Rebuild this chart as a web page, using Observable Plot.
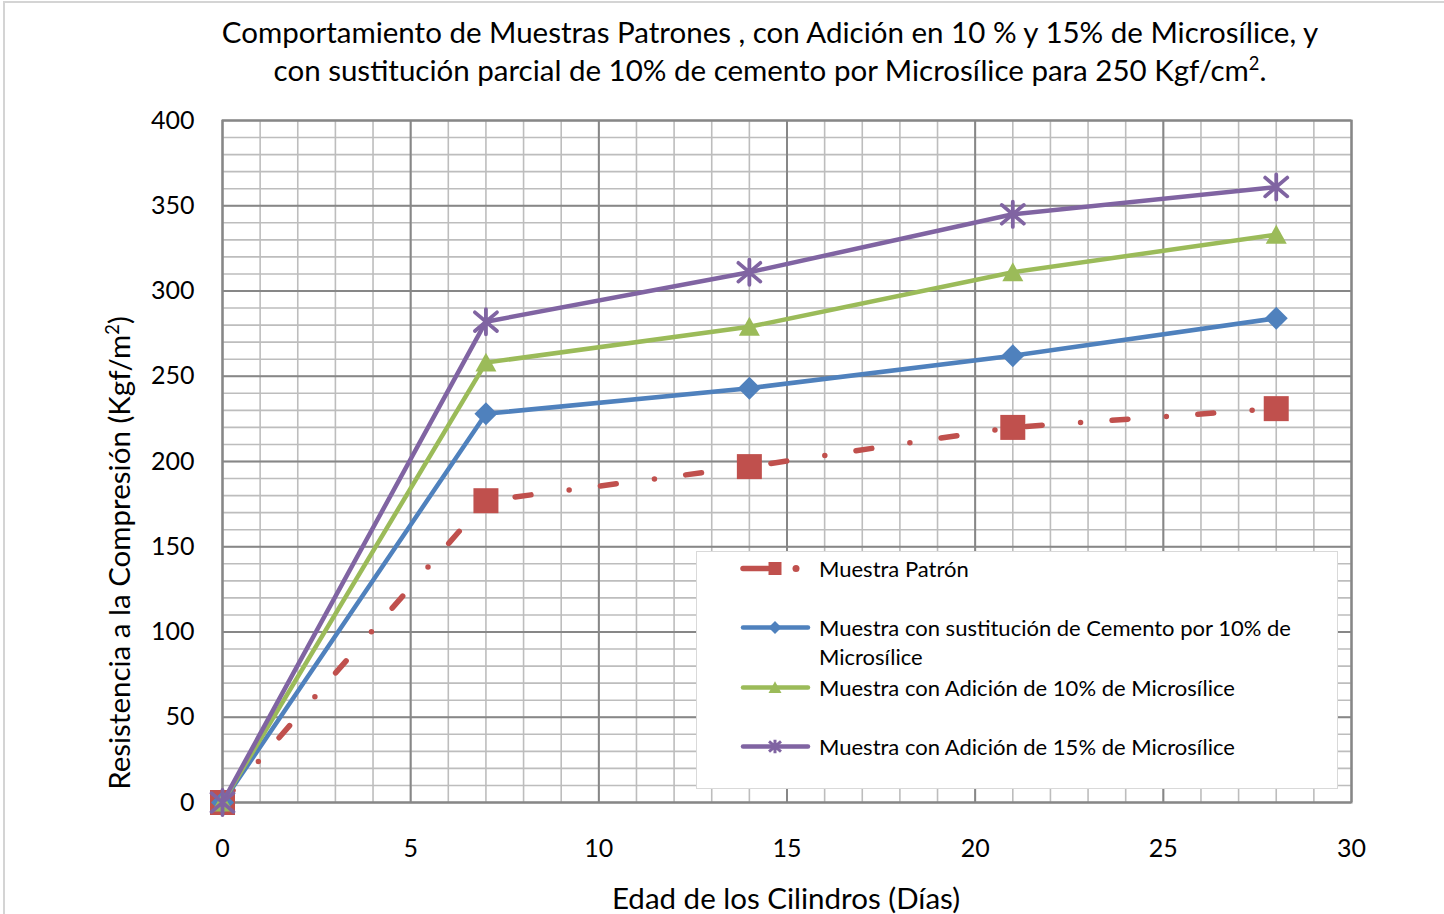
<!DOCTYPE html>
<html>
<head>
<meta charset="utf-8">
<script src="https://cdn.jsdelivr.net/npm/d3@7"></script>
<script src="https://cdn.jsdelivr.net/npm/@observablehq/plot@0.6"></script>
<style>
  body { margin: 0; background: #fff; }
  #chart { position: relative; width: 1444px; height: 914px; overflow: hidden;
           font-family: Lato, "Open Sans", sans-serif; color: #000; background: #fff; }
  #chart svg.plot { position: absolute; left: 0; top: 0; }
  #outline { position: absolute; left: 3px; top: 1px; width: 1460px; height: 940px;
             border: 2px solid #d4d4d4; box-sizing: border-box; }
  #title { position: absolute; left: 0; top: 13px; width: 1540px; text-align: center;
           font-size: 29.5px; line-height: 38px; white-space: nowrap; }
  #ylabel { position: absolute; left: 118px; top: 553px; white-space: nowrap; font-size: 29.5px;
            transform: translate(-50%, -50%) rotate(-90deg); }
  #xlabel { position: absolute; left: 786px; top: 897px; white-space: nowrap; font-size: 29.5px;
            transform: translate(-50%, -50%); }
  sup { font-size: 0.62em; line-height: 0; vertical-align: 0.6em; }
  #legend { position: absolute; left: 696px; top: 551px; width: 642px; height: 238px;
            background: #fff; border: 1px solid #d9d9d9; box-sizing: border-box; }
  .entry { position: absolute; left: 0; font-size: 22px; line-height: 29px; }
  .entry svg { position: absolute; left: 43px; top: 0; }
  .entry .txt { position: absolute; left: 122px; top: 0; white-space: nowrap; }
</style>
</head>
<body>
<div id="chart">
  <div id="outline"></div>
  <div id="title">Comportamiento de Muestras Patrones , con Adición en 10 % y 15% de Microsílice, y<br>con sustitución parcial de 10% de cemento por Microsílice para 250 Kgf/cm<sup>2</sup>.</div>
  <div id="ylabel">Resistencia a la Compresión (Kgf/m<sup>2</sup>)</div>
  <div id="xlabel">Edad de los Cilindros (Días)</div>
</div>
<script>
// Edad de ensayo (días) y resistencias medidas (Kgf/cm²) por serie
const dias = [0, 7, 14, 21, 28];
const patron = [0, 177, 197, 220, 231];
const sustitucion10 = [0, 228, 243, 262, 284];
const adicion10 = [0, 258, 279, 311, 333];
const adicion15 = [0, 282, 311, 345, 361];

const nombres = [
  "Muestra Patrón",
  "Muestra con sustitución de Cemento por 10% de Microsílice",
  "Muestra con Adición de 10% de Microsílice",
  "Muestra con Adición de 15% de Microsílice"
];
const xTicks = [0, 5, 10, 15, 20, 25, 30];
const yTicks = [0, 50, 100, 150, 200, 250, 300, 350, 400];

// Marker shapes (half-width derived from the symbol size)
const half = size => Math.sqrt(size / Math.PI);
const squareSym = { draw(c, s) { const r = half(s); c.rect(-r, -r, 2 * r, 2 * r); } };
const diamondSym = { draw(c, s) { const r = half(s);
  c.moveTo(0, -r); c.lineTo(r, 0); c.lineTo(0, r); c.lineTo(-r, 0); c.closePath(); } };
const triangleSym = { draw(c, s) { const r = half(s);
  c.moveTo(0, -0.95 * r); c.lineTo(r, 0.85 * r); c.lineTo(-r, 0.85 * r); c.closePath(); } };
const starSym = { draw(c, s) { const r = half(s);
  c.moveTo(-0.92 * r, -0.78 * r); c.lineTo(0.92 * r, 0.78 * r);
  c.moveTo(-0.92 * r, 0.78 * r); c.lineTo(0.92 * r, -0.78 * r);
  c.moveTo(0, -1.05 * r); c.lineTo(0, 1.05 * r); } };

const estilos = [
  { valores: patron, color: "#C0504D", symbol: squareSym, r: 12.5, dash: "16,38.5,0,31.5", width: 5.5, filled: true },
  { valores: sustitucion10, color: "#4F81BD", symbol: diamondSym, r: 11.5, dash: null, width: 4.5, filled: true },
  { valores: adicion10, color: "#9BBB59", symbol: triangleSym, r: 10.5, dash: null, width: 4.5, filled: true },
  { valores: adicion15, color: "#8064A2", symbol: starSym, r: 12, dash: null, width: 4.5, filled: false }
];

const seriesMarks = estilos.flatMap((e, i) => {
  const rows = dias.map((d, j) => ({ dia: d, valor: e.valores[j], serie: nombres[i] }));
  const line = Plot.line(rows, {
    x: "dia", y: "valor", stroke: e.color, strokeWidth: e.width,
    strokeLinejoin: "round", strokeLinecap: "round",
    ...(e.dash ? { strokeDasharray: e.dash } : {})
  });
  const dot = Plot.dot(rows, {
    x: "dia", y: "valor", symbol: () => e.symbol, r: e.r,
    ...(e.filled ? { fill: e.color, stroke: "none" }
                 : { fill: "none", stroke: e.color, strokeWidth: 3.8, strokeLinecap: "round" })
  });
  return [line, dot];
});

const chart = Plot.plot({
  width: 1444,
  height: 914,
  marginLeft: 222,
  marginRight: 93,
  marginTop: 120,
  marginBottom: 112,
  x: { domain: [0, 30] },
  y: { domain: [0, 400] },
  symbol: { type: "identity" },
  style: { fontFamily: "Lato, 'Open Sans', sans-serif", fontSize: "25px", color: "#000", background: "transparent" },
  marks: [
    Plot.ruleX(d3.range(0, 31), { stroke: "#bdbdbd", strokeWidth: 1.6 }),
    Plot.ruleY(d3.range(0, 401, 10), { stroke: "#bdbdbd", strokeWidth: 1.6 }),
    Plot.ruleX(xTicks, { stroke: "#878787", strokeWidth: 2 }),
    Plot.ruleY(yTicks, { stroke: "#878787", strokeWidth: 2 }),
    Plot.frame({ stroke: "#878787", strokeWidth: 2 }),
    Plot.axisX({ ticks: xTicks, tickSize: 0, tickPadding: 37, label: null, tickFormat: d => String(d) }),
    Plot.axisY({ ticks: yTicks, tickSize: 0, tickPadding: 28, label: null, tickFormat: d => String(d) }),
    ...seriesMarks
  ]
});
chart.classList.add("plot");
const root = document.getElementById("chart");
root.insertBefore(chart, document.getElementById("title"));

// Legend box with line/marker samples
const legend = document.createElement("div");
legend.id = "legend";
root.appendChild(legend);
const filas = [16, 75, 135, 194]; // vertical centre of each entry's first line inside the box
estilos.forEach((e, i) => {
  const entry = document.createElement("div");
  entry.className = "entry";
  entry.style.top = (filas[i] - 14.5) + "px";
  const svg = d3.create("svg").attr("width", 74).attr("height", 29);
  const cy = 14.5;
  if (e.dash) {
    svg.append("line").attr("x1", 3).attr("x2", 28).attr("y1", cy).attr("y2", cy)
      .attr("stroke", e.color).attr("stroke-width", 5.5).attr("stroke-linecap", "round");
    svg.append("circle").attr("cx", 56).attr("cy", cy).attr("r", 3.5).attr("fill", e.color);
  } else {
    svg.append("line").attr("x1", 3).attr("x2", 68).attr("y1", cy).attr("y2", cy)
      .attr("stroke", e.color).attr("stroke-width", 4.5).attr("stroke-linecap", "round");
  }
  const p = d3.path();
  const sz = Math.PI * 6.5 * 6.5;
  e.symbol.draw(p, sz);
  svg.append("path").attr("d", p.toString()).attr("transform", `translate(35,${cy})`)
    .attr("fill", e.filled ? e.color : "none")
    .attr("stroke", e.filled ? "none" : e.color)
    .attr("stroke-width", e.filled ? 0 : 3);
  entry.appendChild(svg.node());
  const txt = document.createElement("div");
  txt.className = "txt";
  txt.innerHTML = i === 1 ? "Muestra con sustitución de Cemento por 10% de<br>Microsílice" : nombres[i];
  entry.appendChild(txt);
  legend.appendChild(entry);
});
</script>
</body>
</html>
